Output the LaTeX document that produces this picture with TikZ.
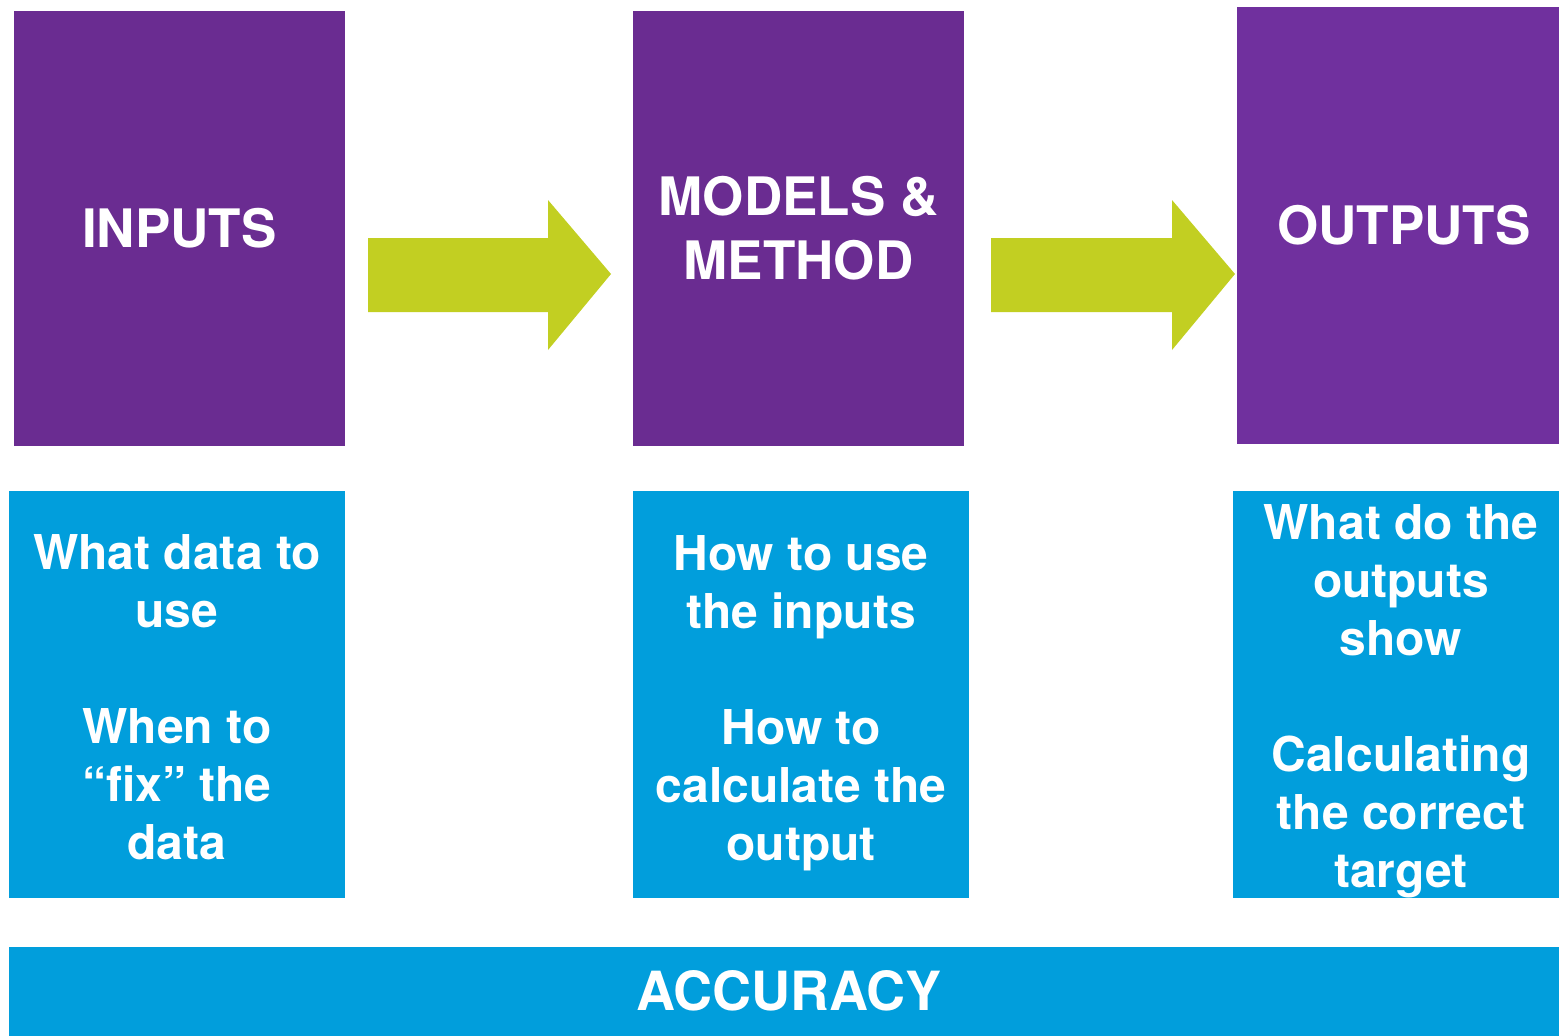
\documentclass[tikz,border=0pt]{standalone}
\usepackage{fontspec}
\setmainfont{TeX Gyre Heros}
\begin{document}
\begin{tikzpicture}[x=1pt,y=-1pt,
  purplebox/.style={fill=#1, draw=none, inner sep=0pt, text=white, align=center,
    font=\bfseries\fontsize{53}{64}\selectfont},
  titletext/.style={text=white, inner sep=0pt, align=center,
    font=\bfseries\fontsize{53}{64}\selectfont},
  bluebox/.style={fill=accblue, draw=none, inner sep=0pt},
  bodytext/.style={text=white, align=center, inner sep=0pt,
    font=\bfseries\fontsize{48}{58}\selectfont},
  greenarrow/.style={fill=arrgreen, draw=none}]
\definecolor{purpA}{HTML}{6A2C91}
\definecolor{purpB}{HTML}{70309E}
\definecolor{accblue}{HTML}{019EDC}
\definecolor{arrgreen}{HTML}{C2CF22}
\useasboundingbox (0,0) rectangle (1559,1036);
% top purple boxes
\node[purplebox=purpA, minimum width=331pt, minimum height=435pt] (inputs) at (179.5,228.5) {INPUTS};
\node[purplebox=purpA, minimum width=331pt, minimum height=435pt] (models) at (798.5,228.5) {MODELS \&\\METHOD};
\node[purplebox=purpB, minimum width=322pt, minimum height=437pt] (outputs) at (1398,225.5) {};
\node[titletext] (outtext) at (1404,225.5) {OUTPUTS};
% arrows
\draw[greenarrow] (368,238) -- (548,238) -- (548,200) -- (611,274) -- (548,350) -- (548,312) -- (368,312) -- cycle;
\draw[greenarrow] (991,238) -- (1172,238) -- (1172,200) -- (1235,274) -- (1172,350) -- (1172,312) -- (991,312) -- cycle;
% blue boxes
\node[bluebox, minimum width=336pt, minimum height=407pt] (b1) at (177,694.5) {};
\node[bluebox, minimum width=336pt, minimum height=407pt] (b2) at (801,694.5) {};
\node[bluebox, minimum width=326pt, minimum height=407pt] (b3) at (1396,694.5) {};
\node[bodytext] (t1) at (177,697) {What data to\\use\\[58pt]When to\\``fix'' the\\data};
\node[bodytext] (t2) at (801,703) {How to use\\the inputs\\[58pt]How to\\calculate the\\output};
\node[bodytext] (t3) at (1401,701) {What do the\\outputs\\show\\[58pt]Calculating\\the correct\\target};
% accuracy bar
\node[bluebox, minimum width=1550pt, minimum height=89pt] (acc) at (784,991.5) {};
\node[text=white, inner sep=0pt, font=\bfseries\fontsize{54}{60}\selectfont] (acctext) at (789,991) {ACCURACY};
\end{tikzpicture}
\end{document}
